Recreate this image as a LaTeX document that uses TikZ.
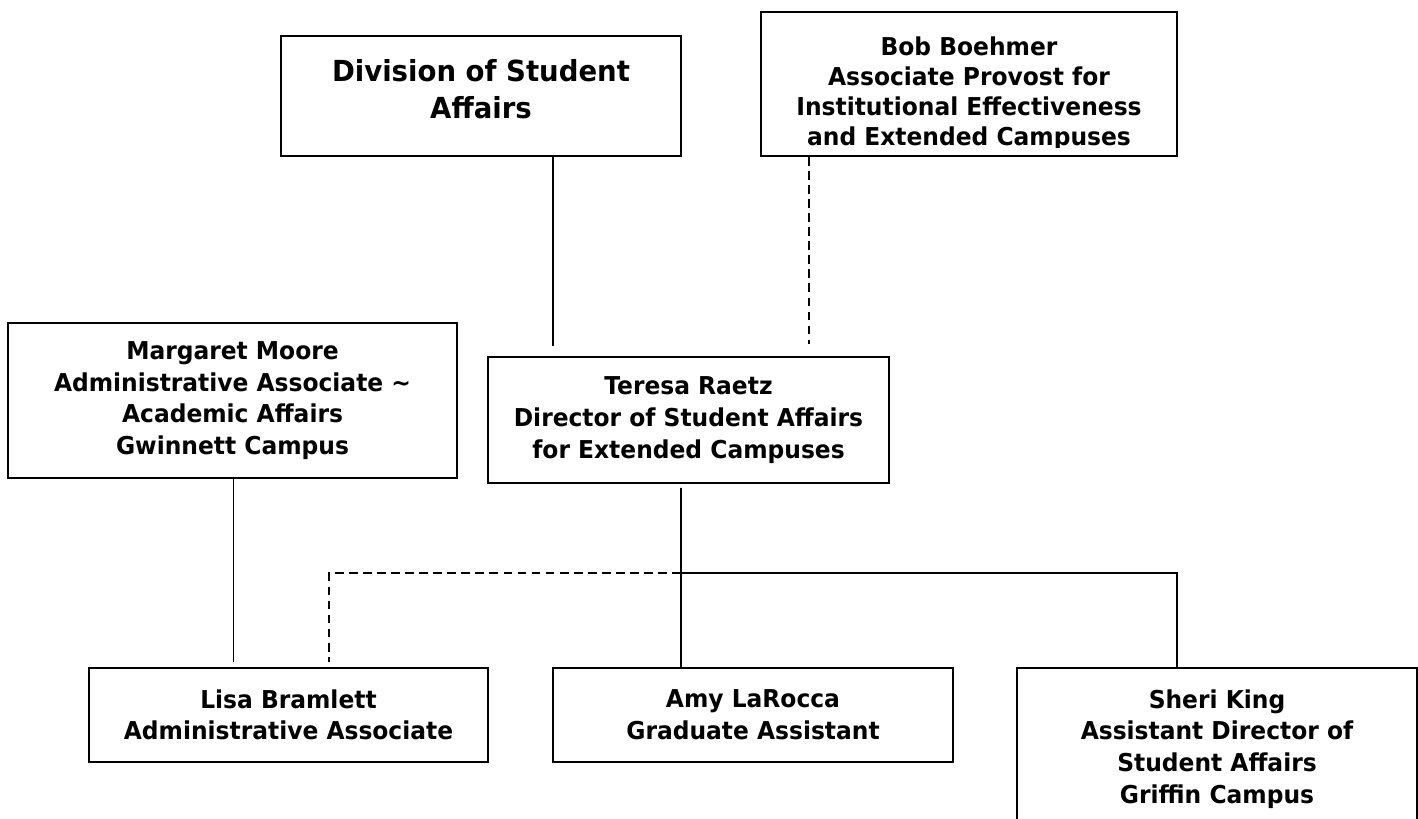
\documentclass[tikz,border=0pt]{standalone}
\usepackage{fontspec}
\newfontfamily\orgfont[FakeStretch=0.95]{DejaVu Sans}
\usetikzlibrary{positioning}

\begin{document}
\begin{tikzpicture}[
        box/.style={
            rectangle,
            draw,
            line width=1.1pt,
            minimum width=8cm,
            align=center,
            inner sep=0pt,
            font=\orgfont\bfseries\fontsize{14}{18}\selectfont
        },
        conn/.style={
            line width=1pt
        },
        dashconn/.style={
            conn,
            dash pattern=on 5pt off 3pt
        }
    ]
    \useasboundingbox (0,0) rectangle (28.36,-16.38);

    % Top row
    \node[box, minimum height=2.4cm, text depth=0.28cm, font=\orgfont\bfseries\fontsize{16.5}{20.5}\selectfont] (division) at (9.62,-1.92) {Division of Student\\Affairs};
    \node[box, minimum width=8.32cm, minimum height=2.88cm] (bob) at (19.38,-1.68) {};
    \begin{scope}
        \clip (bob.north west) rectangle ([yshift=0.18cm]bob.south east);
        \node[box, draw=none, anchor=north, font=\orgfont\bfseries\fontsize{14}{17}\selectfont] (bobtext) at ([yshift=-0.5cm]bob.north) {Bob Boehmer\\Associate Provost for\\Institutional Effectiveness\\and Extended Campuses};
    \end{scope}

    % Middle row
    \node[box, minimum width=8.98cm, minimum height=3.1cm] (margaret) at (4.65,-8.01) {Margaret Moore\\Administrative Associate \textasciitilde\\Academic Affairs\\Gwinnett Campus};
    \node[box, minimum width=8.02cm, minimum height=2.52cm] (teresa) at (13.77,-8.4) {Teresa Raetz\\Director of Student Affairs\\for Extended Campuses};

    % Bottom row
    \node[box, minimum width=7.98cm, minimum height=1.88cm] (lisa) at (5.77,-14.3) {Lisa Bramlett\\Administrative Associate};
    \node[box, minimum height=1.88cm] (amy) at (15.06,-14.3) {Amy LaRocca\\Graduate Assistant};
    \node[box, minimum height=3.24cm] (sheri) at (24.34,-14.98) {Sheri King\\Assistant Director of\\Student Affairs\\Griffin Campus};

    \coordinate (split) at (13.62,-11.46);

    % Connections
    \draw[conn, shorten >=0.2cm] ([xshift=1.44cm]division.south) -- ([xshift=1.44cm]division.south |- teresa.north);
    \draw[dashconn, shorten >=0.24cm] ([xshift=-3.2cm]bob.south) -- ([xshift=-3.2cm]bob.south |- teresa.north);
    \draw[conn, shorten <=0.08cm] ([xshift=-0.15cm]teresa.south) -- ([xshift=-1.44cm]amy.north);
    \draw[conn] (split) -| ([xshift=-0.8cm]sheri.north);
    \draw[dashconn, shorten >=0.1cm] (split) -| ([xshift=0.81cm]lisa.north);
    \draw[conn, shorten >=0.1cm] ([xshift=0.02cm]margaret.south) -- ([xshift=0.02cm]margaret.south |- lisa.north);

\end{tikzpicture}
\end{document}
